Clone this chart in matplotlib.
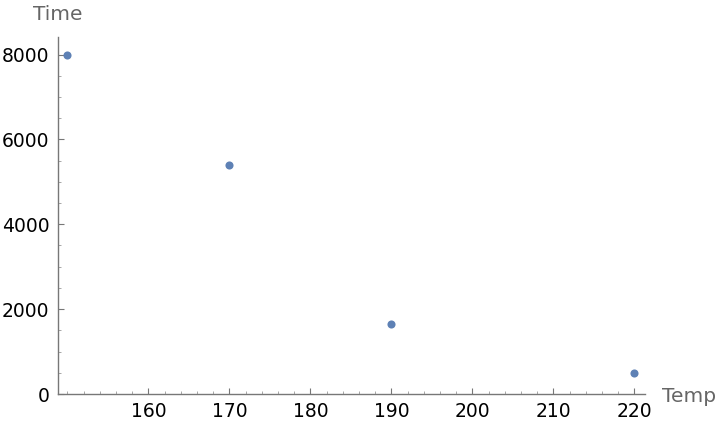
import matplotlib
matplotlib.use("Agg")
import matplotlib.pyplot as plt
from matplotlib.ticker import MultipleLocator

temp = [150, 170, 190, 220]
time = [8000, 5400, 1650, 500]
xticks = [160, 170, 180, 190, 200, 210, 220]
yticks = [0, 2000, 4000, 6000, 8000]

W, H = 720, 426
fig = plt.figure(figsize=(W / 100, H / 100), dpi=100)
x0, x1, y0, y1 = 57.7, 645, 394, 36.7
ax = fig.add_axes([x0 / W, 1 - y0 / H, (x1 - x0) / W, (y0 - y1) / H])

ax.scatter(temp, time, s=34, color="#5E81B5", zorder=3, linewidths=0)
ax.set_xlim(148.8, 221.3)
ax.set_ylim(0, 8420)
ax.set_xticks(xticks)
ax.set_yticks(yticks)
ax.xaxis.set_minor_locator(MultipleLocator(2))
ax.yaxis.set_minor_locator(MultipleLocator(500))

for s in ["top", "right"]:
    ax.spines[s].set_visible(False)
for s in ["left", "bottom"]:
    ax.spines[s].set_color("#777777")
    ax.spines[s].set_linewidth(1.0)

ax.tick_params(which="major", direction="in", length=4, width=0.8, color="#777777",
               labelsize=13.5, labelcolor="black", pad=6)
ax.tick_params(which="minor", direction="in", length=2, width=0.6, color="#999999")

fig.text(57.5 / W, 1 - 14 / H, "Time", ha="center", va="center", fontsize=14.5, color="#666666")
fig.text(662.5 / W, 1 - 396 / H, "Temp", ha="left", va="center", fontsize=14.5, color="#666666")

fig.savefig("out.png", dpi=100)
